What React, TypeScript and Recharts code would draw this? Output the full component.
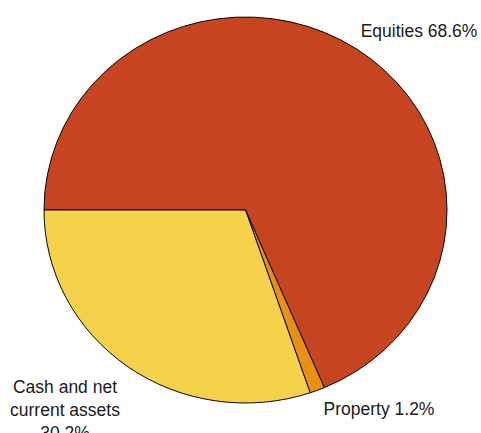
import React from 'react';
import { PieChart, Pie, Cell } from 'recharts';

// asset allocation shares (%)
const categories = ['Equities', 'Property', 'Cash and net current assets'];
const shares = [68.6, 1.2, 30.2];
const colors = ['#C64420', '#E8900F', '#F5D24A'];

// label text lines per slice
const labelLines = [
  ['Equities 68.6%'],
  ['Property 1.2%'],
  ['Cash and net', 'current assets', '30.2%'],
];

const W = 481;
const H = 433;
const CX = 245.5;
const CY = 210;
const R = 201.5;
const SQUASH = 193 / 201.5;

// label anchors (centre x, first baseline y)
const labelAnchors = [
  { x: 419, y: 37 },
  { x: 379, y: 415 },
  { x: 65, y: 393 },
];

export default function App() {
  const data = categories.map((name, i) => ({ name, value: shares[i] }));

  return (
    <div style={{ position: 'absolute', left: 0, top: 0, width: W, height: H, background: '#fff', overflow: 'hidden' }}>
      <div style={{ position: 'absolute', left: 0, top: 0, transform: `scaleY(${SQUASH})`, transformOrigin: `${CX}px ${CY}px` }}>
        <PieChart width={W} height={H} margin={{ top: 0, right: 0, bottom: 0, left: 0 }}>
          <Pie
            data={data}
            dataKey="value"
            cx={CX}
            cy={CY}
            outerRadius={R}
            startAngle={180}
            endAngle={-180}
            stroke="#000"
            strokeWidth={1}
            isAnimationActive={false}
          >
            {data.map((d, i) => (
              <Cell key={d.name} fill={colors[i]} />
            ))}
          </Pie>
        </PieChart>
      </div>
      <svg width={W} height={H} style={{ position: 'absolute', left: 0, top: 0 }}>
        {labelLines.map((lines, i) => (
          <text
            key={i}
            x={labelAnchors[i].x}
            y={labelAnchors[i].y}
            textAnchor="middle"
            fontFamily="'Liberation Sans', Arial, sans-serif"
            fontSize={17.5}
            fill="#1a1a1a"
          >
            {lines.map((l, j) => (
              <tspan key={j} x={labelAnchors[i].x} dy={j === 0 ? 0 : 23}>
                {l}
              </tspan>
            ))}
          </text>
        ))}
      </svg>
    </div>
  );
}
